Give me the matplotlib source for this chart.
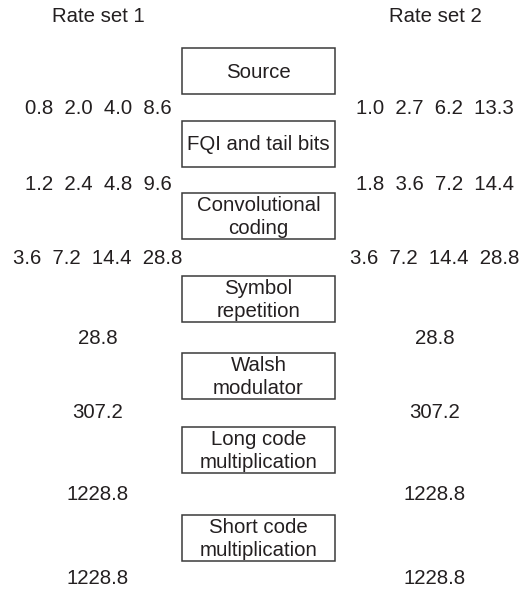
import matplotlib
matplotlib.use('Agg')
import matplotlib.pyplot as plt
from matplotlib.patches import Rectangle
from matplotlib import rcParams
rcParams['font.family'] = ['Liberation Sans', 'DejaVu Sans']
rcParams['font.size'] = 14.7

# rate sets (kb/s or kchips/s) after each stage
set_titles = ['Rate set 1', 'Rate set 2']
rates_set1 = [[0.8, 2.0, 4.0, 8.6], [1.2, 2.4, 4.8, 9.6], [3.6, 7.2, 14.4, 28.8],
              [28.8], [307.2], [1228.8], [1228.8]]
rates_set2 = [[1.0, 2.7, 6.2, 13.3], [1.8, 3.6, 7.2, 14.4], [3.6, 7.2, 14.4, 28.8],
              [28.8], [307.2], [1228.8], [1228.8]]
blocks = ['Source', 'FQI and tail bits', 'Convolutional\ncoding', 'Symbol\nrepetition',
          'Walsh\nmodulator', 'Long code\nmultiplication', 'Short code\nmultiplication']

# layout in pixels
W, H = 523, 590
box_x0, box_x1 = 182, 335
box_tops = [48, 121, 193, 276, 353, 427, 515]
box_h = 46
row_y = [109, 185, 258, 339, 412, 495, 579]
col_x = [98, 435]
col_title_y = 17
ink = '#231f20'

fig = plt.figure(figsize=(W / 100, H / 100), dpi=100)
ax = fig.add_axes([0, 0, 1, 1])
ax.set_xlim(0, W)
ax.set_ylim(H, 0)
ax.axis('off')

for x, t in zip(col_x, set_titles):
    ax.text(x, col_title_y, t, ha='center', va='center', color=ink)

for top, label in zip(box_tops, blocks):
    ax.add_patch(Rectangle((box_x0, top), box_x1 - box_x0, box_h, fill=False,
                           edgecolor='#3a3a3a', linewidth=1.1))
    ax.text((box_x0 + box_x1) / 2, top + box_h / 2 + 1, label, ha='center', va='center',
            color=ink, linespacing=1.25)

for y, r1, r2 in zip(row_y, rates_set1, rates_set2):
    for x, vals in zip(col_x, [r1, r2]):
        s = '  '.join(f'{v:.1f}' for v in vals)
        ax.text(x, y, s, ha='center', va='center', color=ink)

plt.savefig('out.png', dpi=100)
